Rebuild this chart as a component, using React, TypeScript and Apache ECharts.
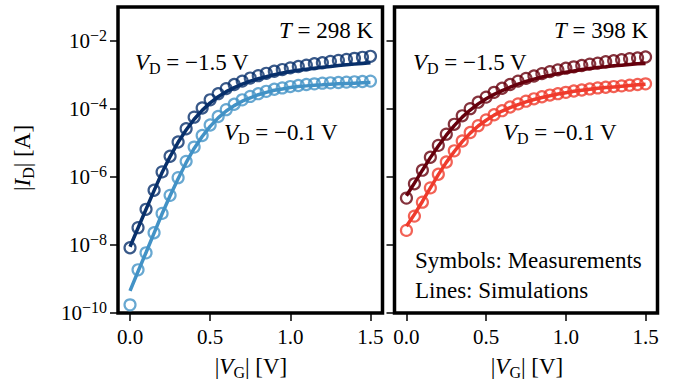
import React, { useEffect, useRef } from 'react';
import * as echarts from 'echarts';

// Gate voltage |V_G| [V]
const vg = [0, 0.05, 0.1, 0.15, 0.2, 0.25, 0.3, 0.35, 0.4, 0.45, 0.5, 0.55, 0.6, 0.65, 0.7, 0.75, 0.8, 0.85, 0.9, 0.95, 1.0, 1.05, 1.1, 1.15, 1.2, 1.25, 1.3, 1.35, 1.4, 1.45, 1.5];

// log10(|I_D| / A)
// T = 298 K
const meas298_VD15 = [-8.08, -7.49, -6.95, -6.39, -5.85, -5.39, -4.97, -4.58, -4.24, -3.97, -3.73, -3.55, -3.40, -3.28, -3.18, -3.09, -3.02, -2.95, -2.89, -2.84, -2.79, -2.75, -2.71, -2.67, -2.64, -2.60, -2.57, -2.54, -2.51, -2.48, -2.45];
const sim298_VD15 = [-8.05, -7.50, -6.95, -6.40, -5.87, -5.40, -4.98, -4.62, -4.30, -4.04, -3.82, -3.64, -3.49, -3.37, -3.27, -3.18, -3.11, -3.05, -2.99, -2.94, -2.90, -2.86, -2.83, -2.80, -2.77, -2.75, -2.72, -2.70, -2.68, -2.66, -2.64];
const meas298_VD01 = [-9.76, -8.73, -8.23, -7.64, -7.07, -6.54, -6.02, -5.54, -5.12, -4.78, -4.47, -4.22, -4.02, -3.86, -3.73, -3.63, -3.55, -3.48, -3.42, -3.38, -3.34, -3.31, -3.28, -3.26, -3.24, -3.23, -3.22, -3.21, -3.20, -3.19, -3.18];
const sim298_VD01 = [-9.35, -8.78, -8.22, -7.65, -7.08, -6.55, -6.05, -5.58, -5.16, -4.81, -4.51, -4.26, -4.06, -3.90, -3.77, -3.67, -3.58, -3.51, -3.45, -3.41, -3.37, -3.34, -3.32, -3.30, -3.29, -3.27, -3.26, -3.25, -3.24, -3.23, -3.22];
// T = 398 K
const meas398_VD15 = [-6.62, -6.20, -5.80, -5.42, -5.07, -4.74, -4.45, -4.20, -3.99, -3.80, -3.65, -3.51, -3.39, -3.28, -3.18, -3.10, -3.03, -2.96, -2.90, -2.85, -2.80, -2.76, -2.72, -2.68, -2.65, -2.61, -2.58, -2.55, -2.52, -2.50, -2.47];
const sim398_VD15 = [-6.55, -6.18, -5.80, -5.43, -5.09, -4.77, -4.49, -4.24, -4.03, -3.85, -3.70, -3.57, -3.46, -3.36, -3.27, -3.19, -3.12, -3.06, -3.01, -2.96, -2.92, -2.88, -2.84, -2.81, -2.78, -2.76, -2.73, -2.71, -2.69, -2.67, -2.66];
const meas398_VD01 = [-7.57, -7.15, -6.74, -6.32, -5.92, -5.56, -5.23, -4.94, -4.69, -4.49, -4.32, -4.17, -4.05, -3.94, -3.85, -3.77, -3.70, -3.64, -3.59, -3.55, -3.51, -3.47, -3.44, -3.41, -3.38, -3.36, -3.34, -3.32, -3.30, -3.28, -3.26];
const sim398_VD01 = [-7.45, -7.10, -6.72, -6.32, -5.93, -5.57, -5.25, -4.96, -4.71, -4.50, -4.33, -4.18, -4.06, -3.96, -3.87, -3.79, -3.72, -3.66, -3.61, -3.56, -3.52, -3.48, -3.45, -3.42, -3.39, -3.37, -3.35, -3.33, -3.31, -3.29, -3.27];

const xTicks = [0, 0.5, 1.0, 1.5];
const yTickExps = [-10, -8, -6, -4, -2];

const FONT = "'Liberation Serif', 'DejaVu Serif', serif";
const C = {
  blueDark: '#08306b',
  blueLight: '#4292c6',
  redDark: '#67000d',
  redLight: '#ef3b2c',
};

const toPts = (ys: number[]) => vg.map((x, i) => [x, Math.pow(10, ys[i])]);

const lineSeries = (ys: number[], color: string, idx: number) => ({
  type: 'line',
  xAxisIndex: idx,
  yAxisIndex: idx,
  data: toPts(ys),
  symbol: 'none',
  showSymbol: false,
  lineStyle: { color, width: 3.5 },
  silent: true,
  z: 2,
});

const scatterSeries = (ys: number[], color: string, idx: number) => ({
  type: 'scatter',
  xAxisIndex: idx,
  yAxisIndex: idx,
  data: toPts(ys),
  symbol: 'circle',
  symbolSize: 11,
  itemStyle: { color: 'rgba(0,0,0,0)', borderColor: color, borderWidth: 2.2 },
  silent: true,
  z: 3,
});

const FS = 23;
const baseRich = {
  n: { fontFamily: FONT, fontSize: FS, lineHeight: 28, color: '#000' },
  i: { fontFamily: FONT, fontSize: FS, lineHeight: 28, fontStyle: 'italic', color: '#000' },
  s: { fontFamily: FONT, fontSize: 16, lineHeight: 16, verticalAlign: 'bottom', color: '#000' },
};

const txt = (text: string, x: number, y: number, align = 'left', rotation = 0) => ({
  type: 'text',
  x,
  y,
  rotation,
  silent: true,
  style: {
    text,
    rich: baseRich,
    fontFamily: FONT,
    fontSize: FS,
    fill: '#000',
    align,
    verticalAlign: 'middle',
  },
});

export default function App() {
  const ref = useRef<HTMLDivElement>(null);
  useEffect(() => {
    if (!ref.current) return;
    const chart = echarts.init(ref.current, undefined, { renderer: 'svg' });
    const grids = [
      { left: 118, top: 7, width: 264.5, height: 306 },
      { left: 394.5, top: 7, width: 263, height: 306 },
    ].map((g) => ({ ...g, show: true, borderColor: '#000', borderWidth: 3.5, backgroundColor: 'transparent' }));

    const xAxes = [0, 1].map((i) => ({
      type: 'value',
      gridIndex: i,
      min: -0.075,
      max: 1.575,
      axisLine: { show: false, onZero: false },
      splitLine: { show: false },
      axisTick: { show: true, customValues: xTicks, length: 8, lineStyle: { color: '#000', width: 1.5 } },
      axisLabel: {
        customValues: xTicks,
        formatter: (v: number) => v.toFixed(1),
        fontFamily: FONT,
        fontSize: 21,
        color: '#000',
        margin: 13,
      },
    }));

    const yTicks = yTickExps.map((e) => Math.pow(10, e));
    const yAxes = [0, 1].map((i) => ({
      type: 'log',
      logBase: 10,
      gridIndex: i,
      min: 1e-10,
      max: 1e-1,
      axisLine: { show: false, onZero: false },
      splitLine: { show: false },
      minorTick: { show: false },
      axisTick: { show: true, customValues: yTicks, length: 8, lineStyle: { color: '#000', width: 1.5 } },
      axisLabel: {
        show: i === 0,
        customValues: yTicks,
        margin: 11,
        formatter: (v: number) => `{b|10}{p|−${Math.abs(Math.round(Math.log10(v)))}}`,
        rich: {
          b: { fontFamily: FONT, fontSize: 21, lineHeight: 27, color: '#000' },
          p: { fontFamily: FONT, fontSize: 16, lineHeight: 16, verticalAlign: 'top', color: '#000' },
        },
      },
    }));

    chart.setOption({
      animation: false,
      backgroundColor: '#fff',
      grid: grids,
      xAxis: xAxes,
      yAxis: yAxes,
      series: [
        lineSeries(sim298_VD15, C.blueDark, 0),
        lineSeries(sim298_VD01, C.blueLight, 0),
        scatterSeries(meas298_VD15, C.blueDark, 0),
        scatterSeries(meas298_VD01, C.blueLight, 0),
        lineSeries(sim398_VD15, C.redDark, 1),
        lineSeries(sim398_VD01, C.redLight, 1),
        scatterSeries(meas398_VD15, C.redDark, 1),
        scatterSeries(meas398_VD01, C.redLight, 1),
      ],
      graphic: [
        txt('{i|T}{n| = 298 K}', 373, 30.5, 'right'),
        txt('{i|V}{s|D}{n| = −1.5 V}', 135, 62.5),
        txt('{i|V}{s|D}{n| = −0.1 V}', 224, 132),
        txt('{i|T}{n| = 398 K}', 648, 30.5, 'right'),
        txt('{i|V}{s|D}{n| = −1.5 V}', 413, 62.5),
        txt('{i|V}{s|D}{n| = −0.1 V}', 503, 132),
        txt('{n|Symbols: Measurements}', 415, 260.5),
        txt('{n|Lines: Simulations}', 415, 290.5),
        txt('{n||}{i|I}{s|D}{n|| [A]}', 22, 158, 'center', Math.PI / 2),
        txt('{n||}{i|V}{s|G}{n|| [V]}', 251, 366, 'center'),
        txt('{n||}{i|V}{s|G}{n|| [V]}', 527, 366, 'center'),
      ],
    });
    return () => chart.dispose();
  }, []);
  return <div ref={ref} style={{ position: 'fixed', left: 0, top: 0, width: 674, height: 384 }} />;
}
